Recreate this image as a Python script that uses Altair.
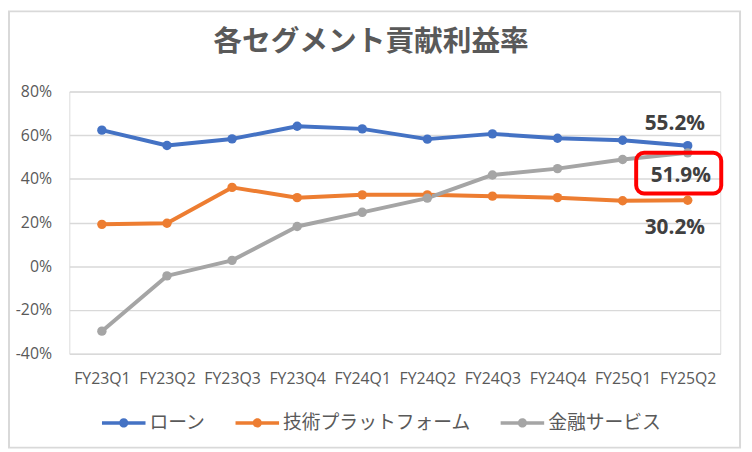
import altair as alt
import pandas as pd

quarters = ["FY23Q1", "FY23Q2", "FY23Q3", "FY23Q4", "FY24Q1",
            "FY24Q2", "FY24Q3", "FY24Q4", "FY25Q1", "FY25Q2"]
series_names = ["ローン", "技術プラットフォーム", "金融サービス"]
loan = [62.3, 55.3, 58.3, 64.1, 62.9, 58.2, 60.6, 58.6, 57.7, 55.2]
tech = [19.2, 19.7, 36.1, 31.4, 32.7, 32.7, 32.1, 31.4, 30.0, 30.2]
fin = [-29.7, -4.4, 2.7, 18.2, 24.7, 31.2, 41.8, 44.7, 48.9, 51.9]
colors = ["#4472C4", "#ED7D31", "#A5A5A5"]
y_ticks = [-0.4, -0.2, 0.0, 0.2, 0.4, 0.6, 0.8]
title_text = "各セグメント貢献利益率"

rows = []
for name, vals in zip(series_names, [loan, tech, fin]):
    for q, v in zip(quarters, vals):
        rows.append({"quarter": q, "series": name, "value": v / 100})
df = pd.DataFrame(rows)

last = df[df["quarter"] == quarters[-1]].copy()
last["label"] = last["value"].map(lambda v: f"{v * 100:.1f}%")

W, H = 658, 265
PAD = {"left": 62, "top": 82, "right": 24, "bottom": 97}

x_enc = alt.X(
    "quarter:N", sort=quarters,
    scale=alt.Scale(type="point", padding=0.5),
    axis=alt.Axis(title=None, labelAngle=0, ticks=False, tickSize=0, domain=False,
                  grid=False, labelFont="Open Sans", labelFontSize=16,
                  labelColor="#595959", labelPadding=17),
)
y_enc = alt.Y(
    "value:Q",
    scale=alt.Scale(domain=[-0.4, 0.8], nice=False, zero=False),
    axis=alt.Axis(title=None, values=y_ticks, domain=False, ticks=False, tickSize=0,
                  labelExpr="(datum.value < -0.0001 ? '-' : '') + format(abs(datum.value), '.0%')",
                  gridColor="#D9D9D9", gridWidth=1.5, labelFont="Open Sans",
                  labelFontSize=16, labelColor="#595959", labelPadding=18),
)

SYMBOL = ("M-1,-0.08 L1,-0.08 L1,0.08 L-1,0.08 Z "
          "M-0.21,0 A0.21,0.21 0 1,1 0.21,0 A0.21,0.21 0 1,1 -0.21,0 Z")

base = alt.Chart(df)

# line colours: default (sorted) domain equals series_names order
lines = base.mark_line(strokeWidth=4, strokeCap="round", strokeJoin="round").encode(
    x=x_enc, y=y_enc,
    stroke=alt.Stroke("series:N", scale=alt.Scale(range=colors), legend=None),
    detail="series:N",
)

points = base.mark_circle(size=90, opacity=1).encode(
    x=x_enc, y=y_enc,
    color=alt.Color(
        "series:N", scale=alt.Scale(domain=series_names, range=colors),
        legend=alt.Legend(title=None, orient="none", direction="horizontal",
                          legendX=33, legendY=313, symbolType=SYMBOL, symbolSize=1936,
                          symbolStrokeWidth=0, symbolOpacity=1,
                          labelFont="Noto Sans CJK JP", labelFontSize=19,
                          labelColor="#595959", labelOffset=4, labelLimit=400,
                          columnPadding=29, padding=0),
    ),
)

label_style = dict(font="Open Sans", fontWeight="bold", fontSize=21, color="#404040",
                   align="center", baseline="alphabetic")
txt_loan = alt.Chart(last[last["series"] == series_names[0]]).mark_text(
    dx=-13, dy=-16, **label_style).encode(x=x_enc, y=y_enc, text="label:N")
txt_fin = alt.Chart(last[last["series"] == series_names[2]]).mark_text(
    dx=-7, dy=29, **label_style).encode(x=x_enc, y=y_enc, text="label:N")
txt_tech = alt.Chart(last[last["series"] == series_names[1]]).mark_text(
    dx=-13, dy=34, **label_style).encode(x=x_enc, y=y_enc, text="label:N")

one = pd.DataFrame({"k": [0]})
red_box = alt.Chart(one).mark_rect(
    filled=False, stroke="#FF0000", strokeWidth=4, cornerRadius=8
).encode(x=alt.value(573), x2=alt.value(659), y=alt.value(62), y2=alt.value(103))

frame = alt.Chart(one).mark_rect(
    filled=False, stroke="#D9D9D9", strokeWidth=2
).encode(x=alt.value(-61), x2=alt.value(678), y=alt.value(-81), y2=alt.value(360))

title = alt.Chart(pd.DataFrame({"t": [title_text]})).mark_text(
    font="Noto Sans CJK JP", fontSize=29, fontWeight="bold", color="#595959",
    align="center", baseline="middle"
).encode(x=alt.value(305), y=alt.value(-50), text="t:N")

chart = alt.layer(frame, title, lines, points, txt_loan, txt_fin, txt_tech, red_box).properties(
    width=W, height=H, padding=PAD,
    autosize=alt.AutoSizeParams(type="none"),
).configure_view(stroke=None).configure(background="white")

chart.save("out.html", embed_options={"renderer": "svg", "actions": False})
